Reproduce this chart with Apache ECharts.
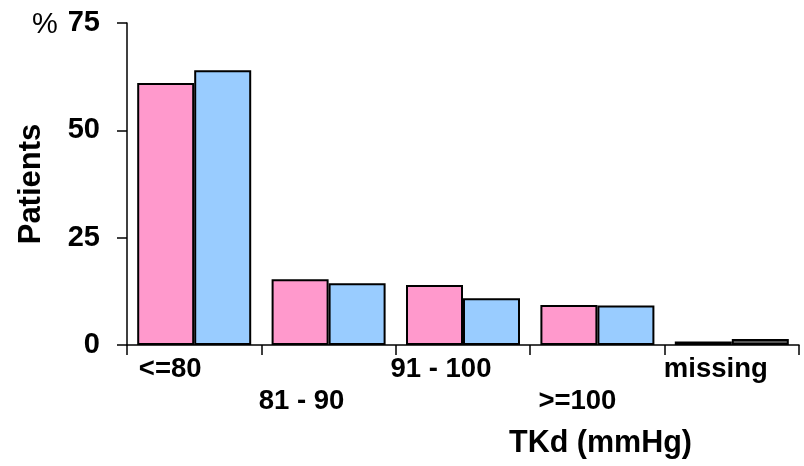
<!DOCTYPE html>
<html>
<head>
<meta charset="utf-8">
<script src="https://cdn.jsdelivr.net/npm/echarts@6/dist/echarts.min.js"></script>
<style>
html,body{margin:0;padding:0;background:#fff;}
#chart{width:804px;height:466px;}
</style>
</head>
<body>
<div id="chart"></div>
<script>
var categories = ['<=80', '81 - 90', '91 - 100', '>=100', 'missing'];
var seriesA = [61, 15.3, 14, 9.3, 0.8];
var seriesB = [64, 14.4, 10.9, 9.2, 1.4];
var yTicks = [0, 25, 50, 75];

var FONT = 'Liberation Sans, Arial, sans-serif';
var chart = echarts.init(document.getElementById('chart'), null, {renderer: 'canvas'});

var dataB = seriesB.map(function (v, i) {
  if (i === categories.length - 1) {
    return {value: v, itemStyle: {color: '#555555'}};
  }
  return v;
});

var labelShift = [48, 54, 44, 40, 32];
var rich = {};
labelShift.forEach(function (s, i) {
  rich['c' + i] = {fontFamily: FONT, fontSize: 27.5, fontWeight: 'bold', color: '#000', lineHeight: 32, padding: [0, s, 0, 0]};
});

chart.setOption({
  animation: false,
  backgroundColor: '#ffffff',
  title: [
    {text: '%', left: 32, top: 10, padding: 0, textStyle: {fontFamily: FONT, fontSize: 29, fontWeight: 'normal', color: '#000'}},
    {text: 'TKd (mmHg)', left: 509, top: 428, padding: 0, textStyle: {fontFamily: FONT, fontSize: 30.5, fontWeight: 'bold', color: '#000'}}
  ],
  grid: {left: 127, right: 5, top: 23, bottom: 121, containLabel: false},
  xAxis: {
    type: 'category',
    data: categories,
    axisLine: {show: true, lineStyle: {color: '#000', width: 1.5}},
    axisTick: {show: true, inside: false, length: 10, lineStyle: {color: '#000', width: 1.5}},
    axisLabel: {
      interval: 0,
      margin: 8,
      fontFamily: FONT,
      fontSize: 27.5,
      fontWeight: 'bold',
      color: '#000',
      lineHeight: 32,
      rich: rich,
      formatter: function (v, i) {
        var t = '{c' + i + '|' + v + '}';
        return i % 2 === 1 ? '\n' + t : t;
      }
    },
    splitLine: {show: false}
  },
  yAxis: {
    type: 'value',
    min: 0,
    max: 75,
    interval: 25,
    name: 'Patients',
    nameLocation: 'middle',
    nameGap: 80,
    nameRotate: 90,
    nameTextStyle: {fontFamily: FONT, fontSize: 31, fontWeight: 'bold', color: '#000'},
    axisLine: {show: true, lineStyle: {color: '#000', width: 1.5}},
    axisTick: {show: true, inside: false, length: 10, lineStyle: {color: '#000', width: 1.5}},
    axisLabel: {
      margin: 27,
      fontFamily: FONT,
      fontSize: 29,
      fontWeight: 'bold',
      color: '#000',
      formatter: function (v) { return yTicks.indexOf(v) >= 0 ? String(v) : ''; }
    },
    splitLine: {show: false}
  },
  series: [
    {
      type: 'bar',
      data: seriesA,
      barWidth: 57,
      barGap: '0%',
      itemStyle: {color: '#FF99CC', borderColor: '#000', borderWidth: 2}
    },
    {
      type: 'bar',
      data: dataB,
      barWidth: 57,
      barGap: '0%',
      itemStyle: {color: '#99CCFF', borderColor: '#000', borderWidth: 2}
    }
  ]
});
</script>
</body>
</html>
